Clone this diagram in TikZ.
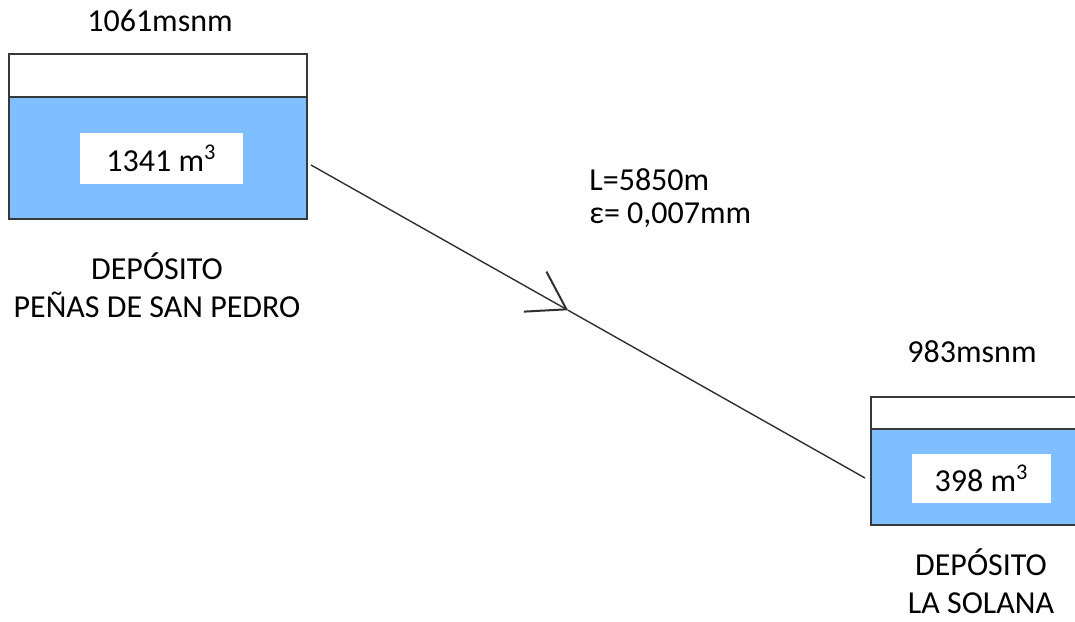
\documentclass[tikz,border=0pt]{standalone}
\usepackage{fontspec}
\setmainfont{Carlito}
\usetikzlibrary{positioning, arrows.meta}
\definecolor{tankgray}{HTML}{383838}
\definecolor{pipegray}{HTML}{303030}
\definecolor{waterblue}{HTML}{80BFFF}

\begin{document}
\begin{tikzpicture}[x=0.5pt, y=-0.5pt,
  lbl/.style={font=\fontsize{16}{19}\selectfont, inner sep=0},
  tank/.style={draw=tankgray, line width=1pt, fill=white, inner sep=0},
  water/.style={draw=tankgray, line width=1pt, fill=waterblue, inner sep=0},
  volbox/.style={fill=white, inner sep=0, font=\fontsize{16}{19}\selectfont},
  pipe/.style={draw=pipegray, line width=0.7pt}]
                        \useasboundingbox (0,0) rectangle (1075,621);
                        \clip (0,0) rectangle (1075,621);

                        \node[tank, minimum width=149pt, minimum height=82.5pt] (tankA) at (158,136.5) {};
                        \node[water, minimum width=149pt, minimum height=61pt, anchor=south] (waterA) at (tankA.south) {};
                        \node[volbox, minimum width=81.5pt, minimum height=25.5pt] (volA) at (161.5,158.5) {1341 m\textsuperscript{3}};

                        \node[tank, minimum width=110pt, minimum height=64pt] (tankB) at (981,461) {};
                        \node[water, minimum width=110pt, minimum height=48pt, anchor=south] (waterB) at (tankB.south) {};
                        \node[volbox, minimum width=69.5pt, minimum height=24.5pt] (volB) at (981.5,478.5) {398 m\textsuperscript{3}};

                        \node[lbl, anchor=base] (levA) at (160,32) {1061msnm};
                        \node[lbl, anchor=base] (levB) at (972,362) {983msnm};
                        \node[lbl, align=center, anchor=base] (nameA) at (157,317) {DEPÓSITO\\PEÑAS DE SAN PEDRO};
                        \node[lbl, align=center, anchor=base] (nameB) at (981,613) {DEPÓSITO\\LA SOLANA};
                        \node[lbl, align=left, anchor=base west, font=\fontsize{16}{16.5}\selectfont] (pipedata) at (589,223) {L=5850m\\ε= 0,007mm};

                        \path (waterA.east) ++(3,7) coordinate (pipeA);
                        \path (waterB.west) ++(-5,1) coordinate (pipeB);
                        \path (pipeA) -- (pipeB) coordinate[pos=0.464] (flow);
                        \draw[pipe, -{Straight Barb[length=18pt, width=23pt, line width=1pt]}] (pipeA) -- (flow);
                        \draw[pipe] (flow) -- (pipeB);
                    \end{tikzpicture}
\end{document}
